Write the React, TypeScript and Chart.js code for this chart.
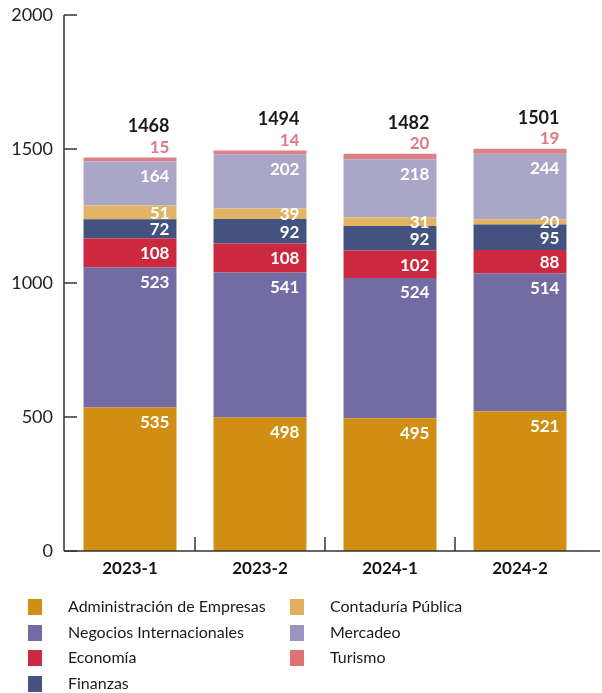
import React, { useEffect, useRef } from "react";
import { Chart, registerables } from "chart.js";

Chart.register(...registerables);

const categories = ["2023-1", "2023-2", "2024-1", "2024-2"];
const admin = [535, 498, 495, 521];
const negocios = [523, 541, 524, 514];
const economia = [108, 108, 102, 88];
const finanzas = [72, 92, 92, 95];
const contaduria = [51, 39, 31, 20];
const mercadeo = [164, 202, 218, 244];
const turismo = [15, 14, 20, 19];
const totals = [1468, 1494, 1482, 1501];

const seriesNames = [
  "Administración de Empresas",
  "Negocios Internacionales",
  "Economía",
  "Finanzas",
  "Contaduría Pública",
  "Mercadeo",
  "Turismo",
];
const seriesValues = [admin, negocios, economia, finanzas, contaduria, mercadeo, turismo];
const barColors = ["#D08E12", "#736BA3", "#CC2941", "#43527E", "#E2B565", "#A9A6C8", "#DF7F88"];
const legendColors = ["#D08E12", "#756AA3", "#CC2944", "#445380", "#E0B060", "#9C95C2", "#DE7275"];

const FONT = "Lato, 'Open Sans', sans-serif";

const axesPlugin = {
  id: "customAxes",
  afterDatasetsDraw(chart: any) {
    const ctx = chart.ctx;
    const area = chart.chartArea;
    const y = chart.scales.y;
    const x = chart.scales.x;
    ctx.save();
    ctx.strokeStyle = "#333";
    ctx.lineWidth = 1.5;
    ctx.beginPath();
    ctx.moveTo(area.left - 1, y.getPixelForValue(2000));
    ctx.lineTo(area.left - 1, area.bottom);
    ctx.stroke();
    ctx.beginPath();
    ctx.moveTo(area.left - 1, area.bottom);
    ctx.lineTo(600, area.bottom);
    ctx.stroke();
    y.ticks.forEach((t: any) => {
      const py = y.getPixelForValue(t.value);
      ctx.beginPath();
      ctx.moveTo(area.left - 1, py);
      ctx.lineTo(area.left + 12, py);
      ctx.stroke();
    });
    for (let i = 1; i < categories.length; i++) {
      const px = (x.getPixelForValue(i - 1) + x.getPixelForValue(i)) / 2;
      ctx.beginPath();
      ctx.moveTo(px, area.bottom);
      ctx.lineTo(px, area.bottom - 14);
      ctx.stroke();
    }
    ctx.restore();
  },
};

const labelPlugin = {
  id: "valueLabels",
  afterDatasetsDraw(chart: any) {
    const ctx = chart.ctx;
    ctx.save();
    const n = chart.data.datasets.length;
    chart.data.datasets.forEach((ds: any, di: number) => {
      const meta = chart.getDatasetMeta(di);
      meta.data.forEach((bar: any, i: number) => {
        const v = ds.data[i];
        const right = bar.x + bar.width / 2 - 7;
        ctx.textAlign = "right";
        ctx.textBaseline = "middle";
        if (di === n - 1) {
          ctx.fillStyle = "#E07A85";
          ctx.font = `bold 17px ${FONT}`;
          ctx.fillText(String(v), right, bar.y - 10);
          ctx.fillStyle = "#1a1a1a";
          ctx.font = `bold 18px ${FONT}`;
          ctx.fillText(String(totals[i]), right, bar.y - 31);
        } else {
          ctx.fillStyle = "#ffffff";
          ctx.font = `bold 17px ${FONT}`;
          const center = (bar.y + bar.base) / 2 + 1;
          ctx.fillText(String(v), right, Math.min(center, bar.y + 15));
        }
      });
    });
    ctx.restore();
  },
};

const legendPlugin = {
  id: "customLegend",
  afterDraw(chart: any) {
    const ctx = chart.ctx;
    ctx.save();
    const rowsY = [607, 633, 658, 684];
    chart.data.datasets.forEach((ds: any, di: number) => {
      const col = di < 4 ? 0 : 1;
      const row = di < 4 ? di : di - 4;
      const sx = col === 0 ? 28 : 290;
      const tx = col === 0 ? 68 : 330;
      const cy = rowsY[row];
      ctx.fillStyle = legendColors[di];
      ctx.fillRect(sx, cy - 8, 14, 16);
      ctx.fillStyle = "#1a1a1a";
      ctx.font = `16px ${FONT}`;
      ctx.textAlign = "left";
      ctx.textBaseline = "middle";
      ctx.fillText(ds.label, tx, cy);
    });
    ctx.restore();
  },
};

export default function App() {
  const ref = useRef<HTMLCanvasElement>(null);
  useEffect(() => {
    document.body.style.margin = "0";
    const chart = new Chart(ref.current as HTMLCanvasElement, {
      type: "bar",
      data: {
        labels: categories,
        datasets: seriesNames.map((name, i) => ({
          label: name,
          data: seriesValues[i],
          backgroundColor: barColors[i],
          borderWidth: 0,
          categoryPercentage: 1,
          barPercentage: 0.715,
        })),
      },
      options: {
        animation: false,
        responsive: false,
        maintainAspectRatio: false,
        layout: { padding: { top: 15, right: 17, left: 0, bottom: 0 } },
        plugins: { legend: { display: false }, tooltip: { enabled: false } },
        scales: {
          x: {
            stacked: true,
            grid: { display: false, drawTicks: false },
            border: { display: false },
            ticks: { color: "#111", font: { family: FONT, size: 17, weight: "bold" }, padding: 7 },
            afterFit(scale: any) {
              scale.height = 142;
            },
          },
          y: {
            stacked: true,
            min: 0,
            max: 2000,
            grid: { display: false, drawTicks: false },
            border: { display: false },
            ticks: {
              stepSize: 500,
              color: "#222",
              font: { family: FONT, size: 18 },
              padding: 12,
              callback: (v: any) => String(v),
            },
            afterFit(scale: any) {
              scale.width = 65;
              scale.paddingTop = 0;
              scale.paddingBottom = 0;
            },
          },
        },
      },
      plugins: [axesPlugin, labelPlugin, legendPlugin],
    });
    return () => chart.destroy();
  }, []);
  return (
    <div style={{ position: "absolute", left: 0, top: 0, width: 602, height: 693 }}>
      <canvas ref={ref} width={602} height={693} />
    </div>
  );
}
